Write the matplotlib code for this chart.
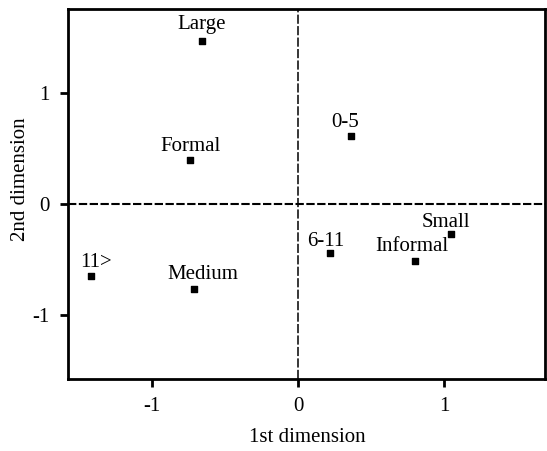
import matplotlib
matplotlib.use("Agg")
import matplotlib.pyplot as plt

labels = ["Large", "Formal", "0-5", "Small", "Informal", "6-11", "11>", "Medium"]
dim1 = [-0.66, -0.74, 0.36, 1.05, 0.80, 0.22, -1.42, -0.71]
dim2 = [1.47, 0.40, 0.61, -0.27, -0.51, -0.44, -0.65, -0.77]

# label offsets in points (dx, dy) from each marker, text centred
offsets = [(0, 11.5), (0.7, 9.4), (-4.3, 10), (-4.3, 8.6), (-2.5, 10), (-2.9, 8), (3.6, 10), (5.8, 10.8)]

plt.rcParams["font.family"] = ["Liberation Serif", "DejaVu Serif"]
plt.rcParams["axes.unicode_minus"] = False

fig = plt.figure(figsize=(5.47, 4.51), dpi=100)
ax = fig.add_axes([0.1243, 0.1596, 0.872, 0.8204])

ax.axhline(0, color="black", linestyle=(0, (4, 1.2)), linewidth=1.5)
ax.axvline(0, color="black", linestyle=(0, (6, 1.5)), linewidth=1.1)
ax.scatter(dim1, dim2, marker="s", s=20, color="black", zorder=3)

for name, x, y, (dx, dy) in zip(labels, dim1, dim2, offsets):
    ax.annotate(name, (x, y), xytext=(dx, dy), textcoords="offset points",
                ha="center", va="center", fontsize=15)

ax.set_xlim(-1.575, 1.69)
ax.set_ylim(-1.577, 1.757)
ax.set_xticks([-1, 0, 1])
ax.set_yticks([-1, 0, 1])
ax.tick_params(direction="out", length=6, width=2, labelsize=15, pad=7)
for s in ax.spines.values():
    s.set_linewidth(2)

ax.set_xlabel("1st dimension", fontsize=15)
ax.set_ylabel("2nd dimension", fontsize=15)
ax.xaxis.set_label_coords(0.502, -0.159)
ax.yaxis.set_label_coords(-0.10, 0.54)
ax.xaxis.label.set_va("center")
ax.yaxis.label.set_va("center")

fig.savefig("out.png", dpi=100)
